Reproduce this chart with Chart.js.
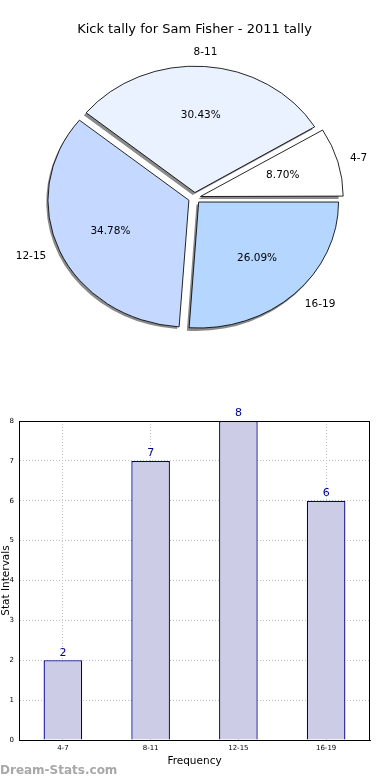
<!DOCTYPE html>
<html>
<head>
<meta charset="utf-8">
<script src="https://cdn.jsdelivr.net/npm/chart.js@4.4.1/dist/chart.umd.min.js"></script>
<style>
  html, body { margin: 0; padding: 0; background: #fff; }
  body { width: 390px; height: 780px; position: relative; overflow: hidden; font-family: "DejaVu Sans", sans-serif; }
  #pieBox { position: absolute; left: 0; top: 0; width: 390px; height: 380px; }
  #barBox { position: absolute; left: 0; top: 390px; width: 390px; height: 390px; }
  #mark { position: absolute; left: 0; top: 763px; font-size: 12px; font-weight: bold; color: #a8a8a8; }
</style>
</head>
<body>
<div id="pieBox"><canvas id="pieChart"></canvas></div>
<div id="barBox"><canvas id="barChart"></canvas></div>
<div id="mark">Dream-Stats.com</div>
<script>
const categorias = ["4-7", "8-11", "12-15", "16-19"];
const valores = [2, 7, 8, 6];
const coresFatia = ["#ffffff", "#eaf1ff", "#c5d8ff", "#b4d6ff"];
const ticksY = [0, 1, 2, 3, 4, 5, 6, 7, 8];

const FONTE = "'DejaVu Sans', sans-serif";
const ESTICA_X = 1.11;
const total = valores.reduce((a, b) => a + b, 0);

// matplotlib desenha anti-horario a partir das 3h, o chart.js vai no horario
const ordem = [3, 2, 1, 0];

const pizzaPlugin = {
  id: "pizzaExtras",
  beforeDatasetsDraw(chart) {
    const ctx = chart.ctx;
    const arcos = chart.getDatasetMeta(0).data;
    const cx = arcos[0].x, cy = arcos[0].y;
    ctx.save();
    ctx.translate(cx, cy);
    ctx.scale(ESTICA_X, 1);
    ctx.translate(-cx, -cy);
    // sombras
    arcos.forEach(arco => {
      const meio = (arco.startAngle + arco.endAngle) / 2;
      const t = (arco.options.offset || 0) / 4;
      const x = arco.x + Math.cos(meio) * t - 2;
      const y = arco.y + Math.sin(meio) * t + 2.5;
      ctx.beginPath();
      ctx.moveTo(x, y);
      ctx.arc(x, y, arco.outerRadius + 0.5, arco.startAngle, arco.endAngle);
      ctx.closePath();
      ctx.fillStyle = "#8a8a8a";
      ctx.fill();
    });
  },
  afterDatasetsDraw(chart) {
    const ctx = chart.ctx;
    ctx.restore();
    const arcos = chart.getDatasetMeta(0).data;
    ctx.save();
    ctx.fillStyle = "#000";
    ctx.font = "10.5px " + FONTE;
    ctx.textBaseline = "middle";
    arcos.forEach((arco, i) => {
      const idx = ordem[i];
      const meio = (arco.startAngle + arco.endAngle) / 2;
      const t = (arco.options.offset || 0) / 4 + 1.5;
      const R = arco.outerRadius;
      const c = Math.cos(meio), s = Math.sin(meio);
      const pct = (valores[idx] / total * 100).toFixed(2) + "%";
      ctx.textAlign = "center";
      ctx.fillText(pct, arco.x + ESTICA_X * c * (0.6 * R + t), arco.y + s * (0.6 * R + t));
      ctx.textAlign = c > 0 ? "left" : "right";
      if (Math.abs(c) < 0.1) ctx.textAlign = "center";
      ctx.fillText(categorias[idx], arco.x + ESTICA_X * c * (1.1 * R + t), arco.y + s * (1.1 * R + t));
    });
    ctx.restore();
  }
};

new Chart(document.getElementById("pieChart"), {
  type: "pie",
  data: {
    labels: ordem.map(i => categorias[i]),
    datasets: [{
      data: ordem.map(i => valores[i]),
      backgroundColor: ordem.map(i => coresFatia[i]),
      borderColor: "#000",
      borderWidth: 0.8,
      offset: 22,
      hoverOffset: 22
    }]
  },
  options: {
    responsive: true,
    maintainAspectRatio: false,
    animation: false,
    rotation: 90,
    radius: 126,
    layout: { padding: { top: 0, left: 0, right: 1, bottom: 21.6 } },
    plugins: {
      legend: { display: false },
      tooltip: { enabled: false },
      title: {
        display: true,
        text: "Kick tally for Sam Fisher - 2011 tally",
        color: "#000",
        font: { family: FONTE, size: 13, weight: "normal" },
        padding: { top: 22, bottom: 0 }
      }
    }
  },
  plugins: [pizzaPlugin]
});

const barraPlugin = {
  id: "barraExtras",
  afterDatasetsDraw(chart) {
    const ctx = chart.ctx;
    const area = chart.chartArea;
    ctx.save();
    ctx.strokeStyle = "#000";
    ctx.lineWidth = 1;
    ctx.strokeRect(Math.round(area.left) + 0.5, Math.round(area.top) + 0.5,
      Math.round(area.right - area.left) - 1, Math.round(area.bottom - area.top));
    ctx.fillStyle = "#00008b";
    ctx.font = "11px " + FONTE;
    ctx.textAlign = "center";
    ctx.textBaseline = "bottom";
    chart.getDatasetMeta(0).data.forEach((barra, i) => {
      ctx.fillText(String(valores[i]), barra.x, barra.y - 2);
    });
    ctx.restore();
  }
};

new Chart(document.getElementById("barChart"), {
  type: "bar",
  data: {
    labels: categorias,
    datasets: [{
      data: valores,
      backgroundColor: "#ccccE6",
      borderColor: "#000080",
      borderWidth: 1.3,
      categoryPercentage: 1,
      barPercentage: 0.44
    }]
  },
  options: {
    responsive: true,
    maintainAspectRatio: false,
    animation: false,
    layout: { padding: { top: 31, right: 20, left: 0, bottom: 12 } },
    plugins: { legend: { display: false }, tooltip: { enabled: false } },
    scales: {
      x: {
        afterFit(scale) { scale.height = 28; },
        grid: { offset: false, color: "#c0c0c0", drawTicks: false },
        border: { display: true, color: "#000", dash: [1, 2] },
        ticks: { color: "#000", font: { family: FONTE, size: 7 }, padding: 4 },
        title: { display: true, text: "Frequency", color: "#000", font: { family: FONTE, size: 10.5 }, padding: { top: 0, bottom: 0 } }
      },
      y: {
        min: 0,
        max: 8,
        afterFit(scale) { scale.width = 19; },
        afterBuildTicks(scale) { scale.ticks = ticksY.map(v => ({ value: v })); },
        grid: { color: "#c0c0c0", drawTicks: false },
        border: { display: true, color: "#000", dash: [1, 2] },
        ticks: { color: "#000", font: { family: FONTE, size: 7 }, padding: 5 },
        title: { display: true, text: "Stat Intervals", color: "#000", font: { family: FONTE, size: 10.5 }, padding: { top: 0, bottom: 0 } }
      }
    }
  },
  plugins: [barraPlugin]
});
</script>
</body>
</html>
